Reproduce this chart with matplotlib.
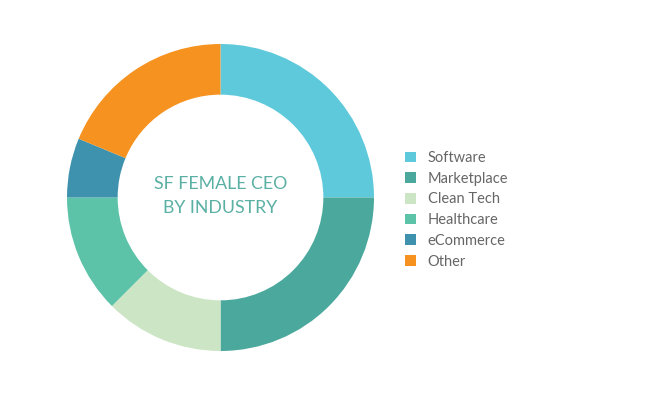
import matplotlib.pyplot as plt

labels = ["Software", "Marketplace", "Clean Tech", "Healthcare", "eCommerce", "Other"]
shares = [25, 25, 12.5, 12.5, 6.25, 18.75]
colors = ["#5fc9dc", "#4aa89c", "#cce5c4", "#5cc3a9", "#3f92ad", "#f69320"]

plt.rcParams["font.family"] = ["Lato", "DejaVu Sans"]

fig = plt.figure(figsize=(6.5, 3.95), dpi=100)
ax = fig.add_axes([67 / 650, 44 / 395, 307 / 650, 307 / 395])

wedges, _ = ax.pie(shares, colors=colors, startangle=90, counterclock=False,
                   radius=1, wedgeprops=dict(width=0.33, linewidth=0))
ax.set_xlim(-1, 1)
ax.set_ylim(-1, 1)
ax.text(0, 0.01, "SF FEMALE CEO\nBY INDUSTRY", ha="center", va="center",
        fontsize=12.8, color="#5bb0a4", linespacing=1.55)

fig.legend(wedges, labels, loc="upper left", bbox_to_anchor=(405 / 650, 1 - 151 / 395),
           frameon=False, fontsize=10.5, labelcolor="#666666",
           handlelength=0.75, handleheight=0.75, handletextpad=0.8,
           labelspacing=0.46, borderpad=0, borderaxespad=0)

fig.savefig("out.png", dpi=100)
